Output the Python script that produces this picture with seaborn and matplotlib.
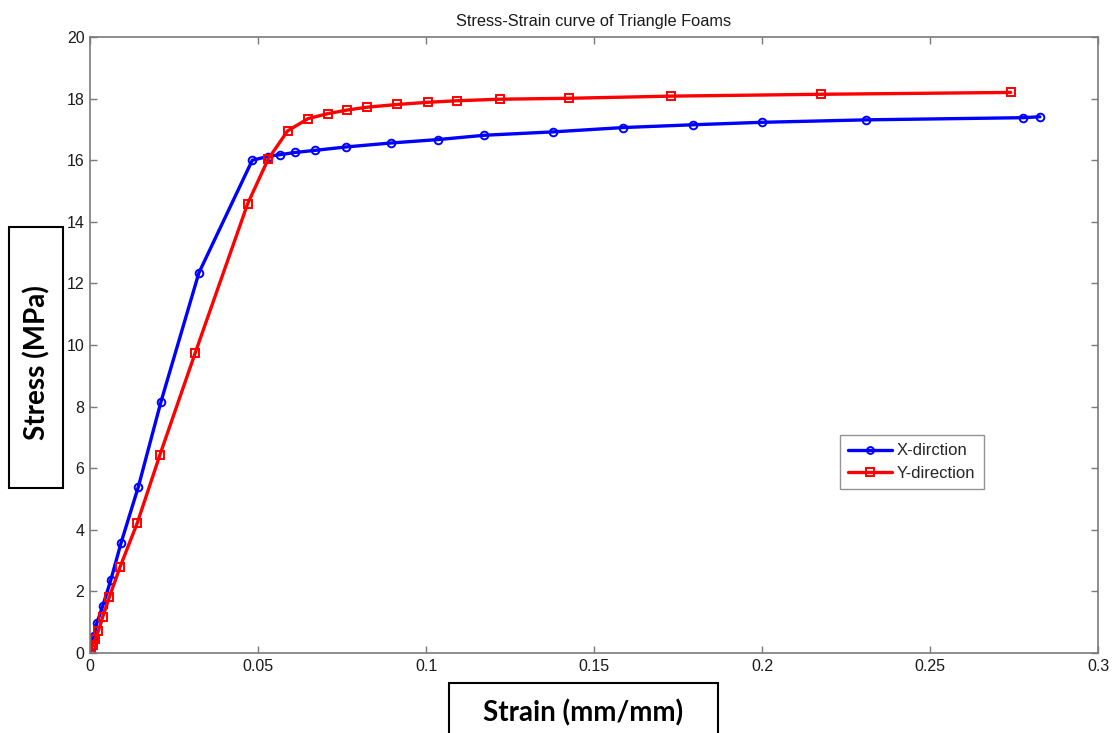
import matplotlib
matplotlib.use("Agg")
import matplotlib.pyplot as plt
from matplotlib.patches import Rectangle
import numpy as np
import pandas as pd
import seaborn as sns

# Stress-strain measurements for the triangle foam, loaded along X and Y
x_strain = [0, 0.0005, 0.0012, 0.0020, 0.0038, 0.0062, 0.0092, 0.0144, 0.0211,
            0.0324, 0.0483, 0.0529, 0.0566, 0.0610, 0.0670, 0.0762, 0.0897,
            0.1036, 0.1174, 0.1379, 0.1587, 0.1794, 0.1999, 0.2310, 0.2776, 0.2827]
x_stress = [0, 0.25, 0.55, 0.96, 1.53, 2.37, 3.56, 5.40, 8.15,
            12.34, 16.00, 16.12, 16.18, 16.25, 16.32, 16.43, 16.56,
            16.67, 16.81, 16.92, 17.06, 17.15, 17.23, 17.31, 17.38, 17.41]

y_strain = [0, 0.0003, 0.0008, 0.0015, 0.0025, 0.0038, 0.0058, 0.0089, 0.0141,
            0.0208, 0.0313, 0.0469, 0.0530, 0.0588, 0.0649, 0.0707, 0.0766,
            0.0824, 0.0915, 0.1005, 0.1092, 0.1219, 0.1426, 0.1728, 0.2175, 0.2740]
y_stress = [0, 0.10, 0.26, 0.44, 0.72, 1.18, 1.83, 2.78, 4.23,
            6.43, 9.74, 14.58, 16.03, 16.95, 17.35, 17.51, 17.63,
            17.72, 17.81, 17.88, 17.93, 17.98, 18.01, 18.08, 18.14, 18.20]

series_names = ["X-dirction", "Y-direction"]
x_ticks = [0, 0.05, 0.1, 0.15, 0.2, 0.25, 0.3]
x_tick_labels = ["0", "0.05", "0.1", "0.15", "0.2", "0.25", "0.3"]
y_ticks = [0, 2, 4, 6, 8, 10, 12, 14, 16, 18, 20]

sns.set_theme(style="white")
plt.rcParams["font.family"] = ["Liberation Sans", "DejaVu Sans"]

fig = plt.figure(figsize=(11.15, 7.33), dpi=100)
ax = fig.add_axes([90 / 1115, 80 / 733, 1008 / 1115, 616 / 733])

df_x = pd.DataFrame({"strain": x_strain, "stress": x_stress})
df_y = pd.DataFrame({"strain": y_strain, "stress": y_stress})

sns.lineplot(data=df_x, x="strain", y="stress", ax=ax, sort=False, estimator=None,
             color="#0000ff", lw=2.4, marker="o", ms=5.5, mfc="none",
             mec="#0000ff", mew=1.4, label=series_names[0])
sns.lineplot(data=df_y, x="strain", y="stress", ax=ax, sort=False, estimator=None,
             color="#ff0000", lw=2.4, marker="s", ms=6, mfc="none",
             mec="#ff0000", mew=1.4, label=series_names[1])

ax.set_xlim(0, 0.3)
ax.set_ylim(0, 20)
ax.set_xticks(x_ticks)
ax.set_xticklabels(x_tick_labels)
ax.set_yticks(y_ticks)
ax.set_xlabel("")
ax.set_ylabel("")

for side in ["left", "right", "top", "bottom"]:
    ax.spines[side].set_color("#7a7a7a")
    ax.spines[side].set_linewidth(1.2)
ax.tick_params(axis="both", which="both", direction="in", length=5, width=1,
               color="#7a7a7a", labelsize=11.5, labelcolor="#1a1a1a",
               top=True, right=True, bottom=True, left=True, pad=4)

ax.set_title("Stress-Strain curve of Triangle Foams", fontsize=11.8,
             color="#1a1a1a", pad=8)

leg = ax.legend(loc="upper left", bbox_to_anchor=((840 - 90) / 1008, (653 - 435) / 616),
                fontsize=12, frameon=True, fancybox=False, borderpad=0.5,
                handlelength=2.6, handletextpad=0.3, labelspacing=0.45,
                borderaxespad=0, markerscale=0.9)
leg.get_frame().set_edgecolor("#7a7a7a")
leg.get_frame().set_linewidth(1.0)

# Boxed axis titles
fig.patches.append(Rectangle((9 / 1115, (733 - 488) / 733), 54 / 1115, 261 / 733,
                             transform=fig.transFigure, fc="white", ec="black",
                             lw=1.5, zorder=5))
fig.text(37 / 1115, (733 - 363) / 733, "Stress (MPa)", rotation=90,
         ha="center", va="center", fontsize=20, fontweight="bold",
         family=["Lato", "DejaVu Sans"], color="black", zorder=6)

fig.patches.append(Rectangle((449 / 1115, -0.02), 269 / 1115, (50 / 733) + 0.02,
                             transform=fig.transFigure, fc="white", ec="black",
                             lw=1.5, zorder=5))
fig.text(583 / 1115, (733 - 713) / 733, "Strain (mm/mm)",
         ha="center", va="center", fontsize=20, fontweight="bold",
         family=["Lato", "DejaVu Sans"], color="black", zorder=6)

fig.savefig("out.png", dpi=100, facecolor="white")
